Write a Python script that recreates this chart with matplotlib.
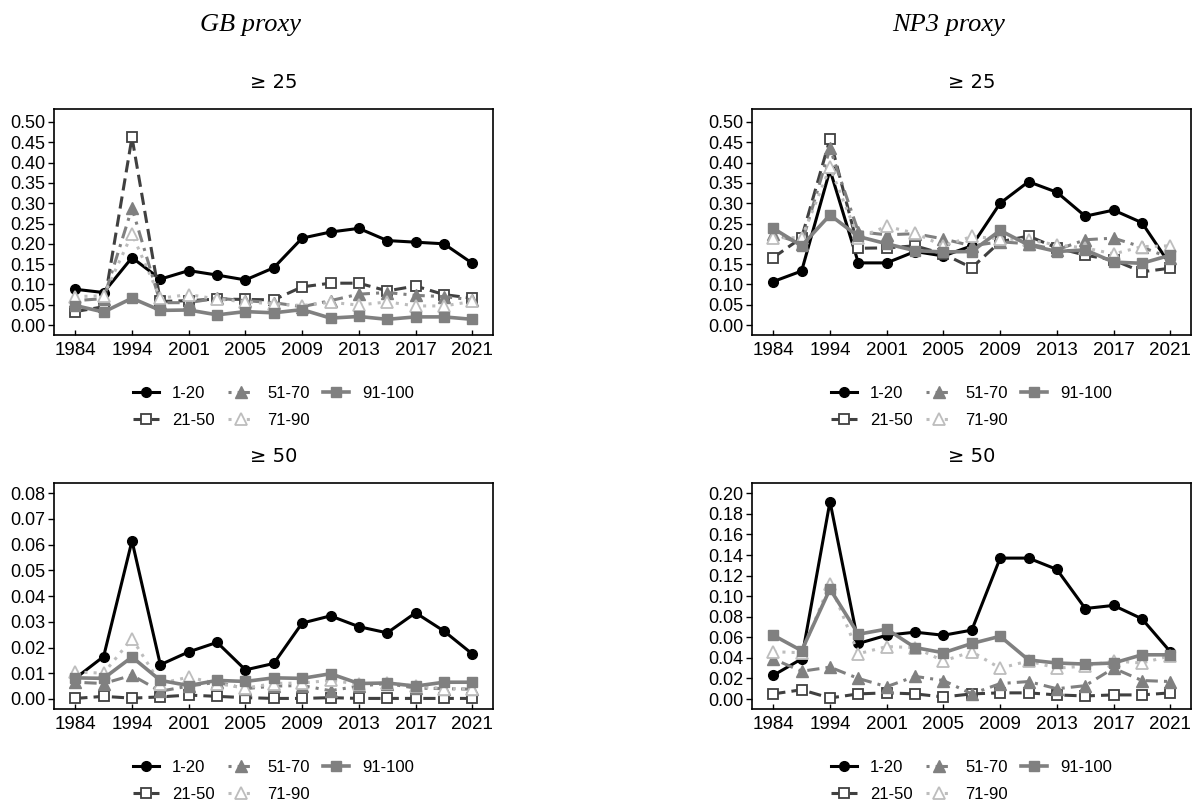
import numpy as np
import matplotlib
matplotlib.use("Agg")
import matplotlib.pyplot as plt


years = [1984, 1989, 1994, 1998, 2001, 2003, 2005, 2007, 2009, 2011, 2013, 2015, 2017, 2019, 2021]
tick_years = [1984, 1994, 2001, 2005, 2009, 2013, 2017, 2021]
groups = ["1-20", "21-50", "51-70", "71-90", "91-100"]

# GB proxy, >= 25
gb25_1_20   = [0.088, 0.080, 0.166, 0.113, 0.134, 0.123, 0.111, 0.141, 0.214, 0.229, 0.238, 0.208, 0.204, 0.200, 0.152]
gb25_21_50  = [0.033, 0.045, 0.462, 0.058, 0.060, 0.064, 0.063, 0.062, 0.094, 0.103, 0.103, 0.084, 0.096, 0.075, 0.066]
gb25_51_70  = [0.060, 0.065, 0.288, 0.055, 0.055, 0.066, 0.060, 0.055, 0.045, 0.060, 0.076, 0.080, 0.073, 0.070, 0.062]
gb25_71_90  = [0.070, 0.072, 0.224, 0.066, 0.075, 0.064, 0.057, 0.052, 0.048, 0.056, 0.049, 0.057, 0.047, 0.047, 0.058]
gb25_91_100 = [0.048, 0.032, 0.066, 0.036, 0.037, 0.025, 0.033, 0.030, 0.038, 0.017, 0.021, 0.014, 0.020, 0.020, 0.014]

# GB proxy, >= 50
gb50_1_20   = [0.008, 0.0165, 0.0615, 0.0133, 0.0183, 0.0220, 0.0113, 0.0138, 0.0295, 0.0323, 0.0281, 0.0257, 0.0335, 0.0264, 0.0175]
gb50_21_50  = [0.0002, 0.0010, 0.0003, 0.0008, 0.0015, 0.0010, 0.0005, 0.0002, 0.0002, 0.0005, 0.0002, 0.0002, 0.0002, 0.0002, 0.0002]
gb50_51_70  = [0.0065, 0.0060, 0.0092, 0.0030, 0.0050, 0.0065, 0.0040, 0.0050, 0.0052, 0.0032, 0.0050, 0.0060, 0.0042, 0.0040, 0.0038]
gb50_71_90  = [0.0105, 0.0100, 0.0235, 0.0060, 0.0085, 0.0060, 0.0042, 0.0060, 0.0062, 0.0072, 0.0058, 0.0062, 0.0050, 0.0040, 0.0040]
gb50_91_100 = [0.0082, 0.0080, 0.0163, 0.0072, 0.0052, 0.0072, 0.0068, 0.0082, 0.0080, 0.0098, 0.0060, 0.0062, 0.0050, 0.0065, 0.0065]

# NP3 proxy, >= 25
np25_1_20   = [0.107, 0.133, 0.382, 0.153, 0.153, 0.181, 0.170, 0.195, 0.300, 0.353, 0.327, 0.268, 0.283, 0.252, 0.148]
np25_21_50  = [0.166, 0.215, 0.458, 0.189, 0.190, 0.195, 0.175, 0.141, 0.205, 0.219, 0.190, 0.172, 0.160, 0.131, 0.140]
np25_51_70  = [0.225, 0.200, 0.435, 0.230, 0.222, 0.225, 0.212, 0.195, 0.205, 0.200, 0.185, 0.210, 0.214, 0.192, 0.165]
np25_71_90  = [0.215, 0.215, 0.388, 0.215, 0.243, 0.226, 0.195, 0.218, 0.212, 0.210, 0.197, 0.190, 0.175, 0.193, 0.195]
np25_91_100 = [0.238, 0.195, 0.271, 0.218, 0.200, 0.183, 0.180, 0.181, 0.233, 0.197, 0.181, 0.185, 0.155, 0.152, 0.172]

# NP3 proxy, >= 50
np50_1_20   = [0.023, 0.039, 0.192, 0.054, 0.062, 0.065, 0.062, 0.067, 0.137, 0.137, 0.126, 0.088, 0.091, 0.078, 0.046]
np50_21_50  = [0.005, 0.009, 0.001, 0.005, 0.006, 0.005, 0.002, 0.005, 0.006, 0.006, 0.004, 0.003, 0.004, 0.004, 0.006]
np50_51_70  = [0.039, 0.027, 0.031, 0.020, 0.012, 0.022, 0.018, 0.005, 0.015, 0.017, 0.010, 0.013, 0.030, 0.018, 0.017]
np50_71_90  = [0.046, 0.045, 0.112, 0.044, 0.051, 0.050, 0.037, 0.046, 0.030, 0.037, 0.030, 0.032, 0.037, 0.035, 0.042]
np50_91_100 = [0.062, 0.047, 0.107, 0.063, 0.068, 0.050, 0.045, 0.054, 0.061, 0.038, 0.035, 0.034, 0.035, 0.043, 0.043]

panels = [
    ([gb25_1_20, gb25_21_50, gb25_51_70, gb25_71_90, gb25_91_100], 0.05, 0.50, (-0.0246, 0.532)),
    ([np25_1_20, np25_21_50, np25_51_70, np25_71_90, np25_91_100], 0.05, 0.50, (-0.0246, 0.532)),
    ([gb50_1_20, gb50_21_50, gb50_51_70, gb50_71_90, gb50_91_100], 0.01, 0.08, (-0.0038, 0.0841)),
    ([np50_1_20, np50_21_50, np50_51_70, np50_71_90, np50_91_100], 0.02, 0.20, (-0.0094, 0.2103)),
]
subtitles = ["\u2265 25", "\u2265 25", "\u2265 50", "\u2265 50"]

styles = [
    dict(color="black", ls="-", lw=2.2, marker="o", ms=7, mfc="black", mec="black"),
    dict(color="#404040", ls=(0, (4, 2)), lw=2.2, marker="s", ms=7, mfc="white", mec="#404040", mew=1.3),
    dict(color="#808080", ls=(0, (1, 2, 4, 2)), lw=2.2, marker="^", ms=8, mfc="#808080", mec="#808080"),
    dict(color="#bdbdbd", ls=(0, (1, 2)), lw=2.2, marker="^", ms=8, mfc="white", mec="#bdbdbd", mew=1.3),
    dict(color="#808080", ls="-", lw=2.6, marker="s", ms=7, mfc="#808080", mec="#808080"),
]

plt.rcParams["font.family"] = ["Liberation Sans", "DejaVu Sans"]

fig = plt.figure(figsize=(11.92, 8.01), dpi=100)
W, H = 1192.0, 801.0
lefts = [54, 752, 54, 752]
tops = [109, 109, 482.7, 482.7]
aw, ah = 439, 226

x = np.arange(len(years))
tick_pos = [years.index(y) for y in tick_years]

for i, (series, step, top, ylim) in enumerate(panels):
    ax = fig.add_axes([lefts[i] / W, 1 - (tops[i] + ah) / H, aw / W, ah / H])
    for vals, name, st in zip(series, groups, styles):
        ax.plot(x, vals, label=name, **st)
    ax.set_xlim(-0.75, 14.73)
    ax.set_ylim(*ylim)
    ax.set_xticks(tick_pos)
    ax.set_xticklabels([str(y) for y in tick_years])
    yt = np.round(np.arange(0, top + step / 2, step), 4)
    ax.set_yticks(yt)
    ax.set_yticklabels([f"{v:.2f}" for v in yt])
    ax.tick_params(axis="x", direction="in", length=3.5, width=1, labelsize=13.5, pad=5)
    ax.tick_params(axis="y", direction="out", length=4, width=1, labelsize=13, pad=2)
    for sp in ax.spines.values():
        sp.set_linewidth(1.2)
    ax.text(0.5, 1 + 26 / ah, subtitles[i], transform=ax.transAxes,
            ha="center", va="center", fontsize=14, family=["DejaVu Sans"])
    ax.legend(loc="center", bbox_to_anchor=(0.5, -72 / ah), ncol=3, frameon=False,
              fontsize=12, handlelength=1.55, handletextpad=0.78, columnspacing=0.82,
              labelspacing=0.72, numpoints=1)

fig.text((273.5 - 23) / W, 1 - 25 / H, "GB proxy", ha="center", va="center",
         fontsize=19, style="italic", family=["Liberation Serif"])
fig.text((971.5 - 23) / W, 1 - 25 / H, "NP3 proxy", ha="center", va="center",
         fontsize=19, style="italic", family=["Liberation Serif"])

fig.savefig("out.png", dpi=100)
